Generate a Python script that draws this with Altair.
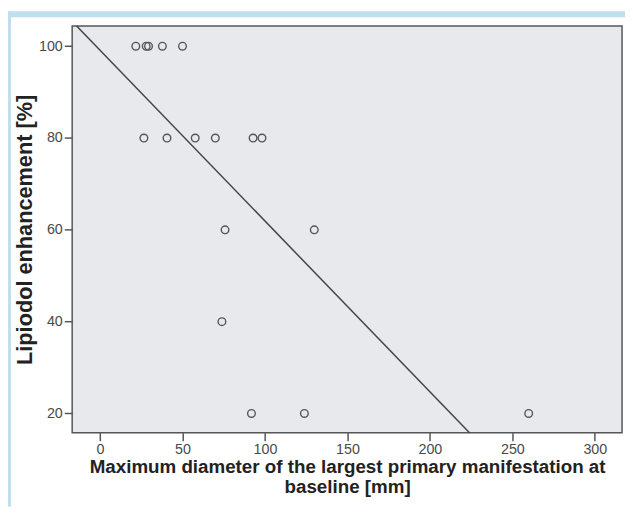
import altair as alt
import pandas as pd

# Data
diameter_mm = [21.7, 28.0, 29.4, 37.8, 50.0,
               26.6, 40.6, 57.7, 69.9, 92.8, 98.2,
               75.8, 129.9,
               73.9,
               91.8, 123.9, 259.9]
enhancement = [100, 100, 100, 100, 100,
               80, 80, 80, 80, 80, 80,
               60, 60,
               40,
               20, 20, 20]

fit_x = [-14.2, 224.0]
fit_y = [104.4, 15.8]

x_ticks = [0, 50, 100, 150, 200, 250, 300]
y_ticks = [20, 40, 60, 80, 100]

pts = pd.DataFrame({"d": diameter_mm, "e": enhancement})
fit = pd.DataFrame({"d": fit_x, "e": fit_y})

xs = alt.Scale(domain=[-16.9, 316.5], nice=False, zero=False)
ys = alt.Scale(domain=[15.8, 104.4], nice=False, zero=False)

axis_common = dict(domain=False, grid=False, ticks=True, tickColor="#555555",
                   tickWidth=1.5, tickSize=8, labelColor="#4a4a4a",
                   labelFont="Liberation Sans", labelFontSize=14.5,
                   titleFont="Liberation Sans",
                   titleFontWeight="bold", titleColor="#222222")

x_axis = alt.Axis(values=x_ticks, title=["Maximum diameter of the largest primary manifestation at", "baseline [mm]"],
                  labelPadding=2, titlePadding=2, titleLineHeight=20, titleFontSize=19,
                  **axis_common)
y_axis = alt.Axis(values=y_ticks, title="Lipiodol enhancement [%]",
                  labelPadding=2, titlePadding=2, titleFontSize=22, **axis_common)

points = alt.Chart(pts).mark_point(shape="circle", filled=False, color="#555555",
                                   strokeWidth=1.4, size=60, opacity=1).encode(
    x=alt.X("d:Q", scale=xs, axis=x_axis),
    y=alt.Y("e:Q", scale=ys, axis=y_axis),
)

line = alt.Chart(fit).mark_line(color="#444444", strokeWidth=1.5).encode(
    x=alt.X("d:Q", scale=xs),
    y=alt.Y("e:Q", scale=ys),
)

band_df = pd.DataFrame({"k": [0]})
top_band = alt.Chart(band_df).mark_rect(color="#bfdfee").encode(
    x=alt.value(-65), x2=alt.value(560), y=alt.value(-15), y2=alt.value(-9)
)
left_band = alt.Chart(band_df).mark_rect(color="#bfdfee").encode(
    x=alt.value(-65), x2=alt.value(-62), y=alt.value(-15), y2=alt.value(487)
)

chart = alt.layer(top_band, left_band, line, points).properties(
    width=557, height=412,
    autosize=alt.AutoSizeParams(type="none"),
    padding={"left": 65, "top": 15, "right": 3, "bottom": 75},
    background="white",
).configure_view(
    fill="#e7e9ec", stroke="#555555", strokeWidth=1.5
)

chart.save("out.html", embed_options={"renderer": "svg", "actions": False})
